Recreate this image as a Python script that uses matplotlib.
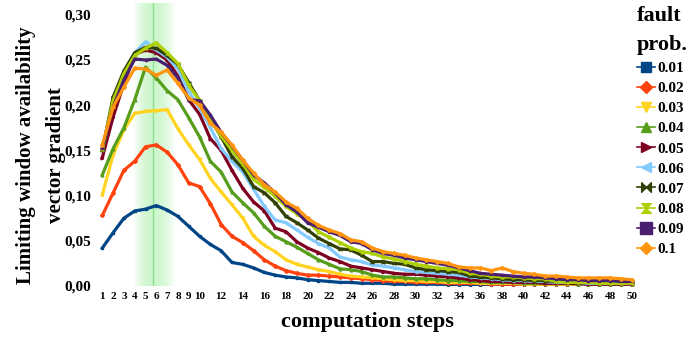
import numpy as np
import matplotlib
matplotlib.use("Agg")
import matplotlib.pyplot as plt
from matplotlib.path import Path
from matplotlib.ticker import FuncFormatter

plt.rcParams['font.family'] = ['Liberation Serif', 'DejaVu Serif']
plt.rcParams['font.weight'] = 'bold'

steps = np.arange(1, 51)

p001 = [0.042, 0.059, 0.075, 0.083, 0.085, 0.089, 0.084, 0.077, 0.066, 0.055,
        0.046, 0.039, 0.026, 0.024, 0.020, 0.015, 0.012, 0.010, 0.009, 0.007,
        0.006, 0.005, 0.004, 0.004, 0.003, 0.003, 0.003, 0.002, 0.002, 0.002,
        0.002, 0.002, 0.0015, 0.0015, 0.0015, 0.001, 0.001, 0.001, 0.001, 0.001,
        0.001, 0.001, 0.001, 0.001, 0.001, 0.001, 0.001, 0.001, 0.001, 0.001]
p002 = [0.078, 0.103, 0.128, 0.138, 0.154, 0.156, 0.148, 0.134, 0.114, 0.110,
        0.091, 0.068, 0.055, 0.048, 0.039, 0.029, 0.022, 0.017, 0.014, 0.012,
        0.012, 0.011, 0.010, 0.009, 0.008, 0.007, 0.006, 0.005, 0.005, 0.004,
        0.004, 0.004, 0.003, 0.003, 0.003, 0.003, 0.002, 0.002, 0.002, 0.002,
        0.002, 0.002, 0.002, 0.002, 0.002, 0.002, 0.002, 0.002, 0.002, 0.002]
p003 = [0.101, 0.145, 0.173, 0.191, 0.193, 0.194, 0.195, 0.174, 0.156, 0.140,
        0.119, 0.104, 0.090, 0.075, 0.055, 0.045, 0.038, 0.029, 0.024, 0.021,
        0.018, 0.016, 0.013, 0.011, 0.010, 0.009, 0.008, 0.007, 0.006, 0.006,
        0.005, 0.005, 0.004, 0.004, 0.004, 0.003, 0.003, 0.003, 0.003, 0.002,
        0.002, 0.002, 0.002, 0.002, 0.002, 0.002, 0.002, 0.002, 0.002, 0.002]
p004 = [0.123, 0.152, 0.175, 0.206, 0.242, 0.230, 0.216, 0.206, 0.186, 0.165,
        0.138, 0.126, 0.104, 0.092, 0.081, 0.066, 0.055, 0.049, 0.043, 0.036,
        0.029, 0.024, 0.019, 0.018, 0.016, 0.012, 0.010, 0.010, 0.009, 0.008,
        0.008, 0.007, 0.006, 0.006, 0.005, 0.005, 0.004, 0.004, 0.004, 0.003,
        0.003, 0.003, 0.003, 0.003, 0.002, 0.002, 0.002, 0.002, 0.002, 0.002]
p005 = [0.142, 0.187, 0.224, 0.256, 0.261, 0.258, 0.250, 0.232, 0.206, 0.190,
        0.163, 0.150, 0.128, 0.108, 0.093, 0.083, 0.064, 0.060, 0.049, 0.042,
        0.037, 0.031, 0.027, 0.022, 0.020, 0.018, 0.016, 0.014, 0.013, 0.013,
        0.012, 0.011, 0.010, 0.009, 0.007, 0.006, 0.005, 0.005, 0.004, 0.004,
        0.004, 0.003, 0.003, 0.003, 0.003, 0.002, 0.002, 0.002, 0.002, 0.002]
p006 = [0.150, 0.205, 0.237, 0.258, 0.270, 0.261, 0.253, 0.240, 0.215, 0.197,
        0.175, 0.152, 0.138, 0.126, 0.107, 0.088, 0.073, 0.070, 0.062, 0.054,
        0.047, 0.042, 0.032, 0.029, 0.027, 0.023, 0.022, 0.020, 0.018, 0.016,
        0.015, 0.014, 0.013, 0.012, 0.010, 0.009, 0.008, 0.007, 0.006, 0.006,
        0.005, 0.005, 0.004, 0.004, 0.004, 0.003, 0.003, 0.003, 0.003, 0.003]
p007 = [0.150, 0.209, 0.238, 0.258, 0.264, 0.263, 0.255, 0.245, 0.225, 0.205,
        0.185, 0.165, 0.143, 0.130, 0.110, 0.103, 0.092, 0.077, 0.070, 0.062,
        0.053, 0.047, 0.041, 0.040, 0.034, 0.027, 0.027, 0.025, 0.024, 0.020,
        0.018, 0.017, 0.016, 0.015, 0.011, 0.010, 0.009, 0.008, 0.007, 0.007,
        0.006, 0.006, 0.005, 0.005, 0.005, 0.005, 0.004, 0.004, 0.004, 0.004]
p008 = [0.152, 0.205, 0.235, 0.255, 0.263, 0.269, 0.258, 0.246, 0.222, 0.205,
        0.183, 0.166, 0.150, 0.135, 0.118, 0.109, 0.099, 0.088, 0.080, 0.072,
        0.060, 0.054, 0.048, 0.042, 0.038, 0.036, 0.032, 0.030, 0.027, 0.024,
        0.022, 0.020, 0.019, 0.018, 0.014, 0.013, 0.011, 0.010, 0.010, 0.009,
        0.008, 0.008, 0.005, 0.004, 0.004, 0.004, 0.003, 0.003, 0.003, 0.003]
p009 = [0.153, 0.198, 0.228, 0.251, 0.250, 0.251, 0.244, 0.230, 0.206, 0.205,
        0.189, 0.170, 0.155, 0.139, 0.123, 0.114, 0.103, 0.090, 0.082, 0.070,
        0.065, 0.060, 0.056, 0.049, 0.047, 0.040, 0.036, 0.034, 0.031, 0.029,
        0.027, 0.025, 0.023, 0.020, 0.017, 0.014, 0.013, 0.012, 0.011, 0.010,
        0.010, 0.009, 0.008, 0.007, 0.007, 0.006, 0.006, 0.006, 0.005, 0.005]
p010 = [0.156, 0.198, 0.220, 0.241, 0.240, 0.233, 0.239, 0.224, 0.208, 0.200,
        0.180, 0.170, 0.156, 0.139, 0.125, 0.112, 0.104, 0.093, 0.086, 0.075,
        0.067, 0.062, 0.058, 0.051, 0.049, 0.042, 0.038, 0.036, 0.034, 0.031,
        0.029, 0.027, 0.025, 0.021, 0.020, 0.020, 0.017, 0.020, 0.016, 0.014,
        0.013, 0.011, 0.011, 0.010, 0.009, 0.009, 0.009, 0.009, 0.008, 0.007]

labels = ['0.01', '0.02', '0.03', '0.04', '0.05', '0.06', '0.07', '0.08', '0.09', '0.1']
series = [p001, p002, p003, p004, p005, p006, p007, p008, p009, p010]
colors = ['#004586', '#ff420e', '#ffd320', '#579d1c', '#7e0021',
          '#83caff', '#314004', '#aecf00', '#4b1f6f', '#ff950e']

# bowtie / hourglass markers for 0.07 and 0.08
bowtie = Path([(-1, 1), (-1, -1), (1, 1), (1, -1), (-1, 1)])
hourglass = Path([(-1, 1), (1, 1), (-1, -1), (1, -1), (-1, 1)])
markers = ['s', 'D', 'v', '^', '>', '<', bowtie, hourglass, 's', 'D']
msizes = [7, 6, 7, 7, 7, 7, 7, 7, 8, 6]

fig = plt.figure(figsize=(6.89, 3.38), dpi=100)
W, H = 689, 338
ax = fig.add_axes([98 / W, (H - 286) / H, 538 / W, 283 / H])

# highlighted band around step 6
band_lo, band_mid, band_hi = 3.87, 5.72, 7.85
xs = np.linspace(band_lo, band_hi, 300)
t = np.where(xs < band_mid, (band_mid - xs) / (band_mid - band_lo),
             (xs - band_mid) / (band_hi - band_mid))
alpha = 0.5 * (1 - t ** 1.8)
img = np.zeros((1, len(xs), 4))
img[..., 0] = 0.6
img[..., 1] = 0.93
img[..., 2] = 0.6
img[..., 3] = alpha
ax.imshow(img, extent=[band_lo, band_hi, 0, 0.313], aspect='auto', zorder=0)
ax.axvline(band_mid, color='#8ee08e', lw=1, zorder=1)

handles = []
for vals, lab, c, m, ms in zip(series, labels, colors, markers, msizes):
    ax.plot(steps, vals, color=c, lw=2.3, marker=m, markersize=2, zorder=2)
    h, = ax.plot([], [], color=c, lw=1.2, marker=m, markersize=ms, label=lab)
    handles.append(h)

ax.set_xlim(0.6, 50.4)
ax.set_ylim(0, 0.313)
ax.set_yticks(np.arange(0, 0.31, 0.05))
ax.yaxis.set_major_formatter(FuncFormatter(lambda v, p: f"{v:.2f}".replace('.', ',')))
xt = list(range(1, 11)) + list(range(12, 51, 2))
ax.set_xticks(xt)
ax.tick_params(axis='y', length=0, labelsize=11, pad=5)
ax.tick_params(axis='x', length=0, labelsize=8, pad=4)
for s in ax.spines.values():
    s.set_visible(False)

fig.text(41 / W, (H - 155) / H, 'Limiting window availability\nvector gradient',
         rotation=90, ha='center', va='center', fontsize=15,
         fontweight='bold', linespacing=1.6, multialignment='center')
fig.text(367 / W, (H - 322) / H, 'computation steps', ha='center', va='center',
         fontsize=16, fontweight='bold')

leg = fig.legend(handles=handles, loc='upper left', bbox_to_anchor=(637 / W, (H - 6) / H),
                 frameon=False, borderpad=0, borderaxespad=0, fontsize=11,
                 handlelength=1.2, handletextpad=0.15, labelspacing=0.42,
                 title='fault\nprob.', title_fontproperties={'size': 16, 'weight': 'bold'},
                 alignment='left')
leg.get_title().set_linespacing(1.6)

fig.savefig('out.png', dpi=100)
